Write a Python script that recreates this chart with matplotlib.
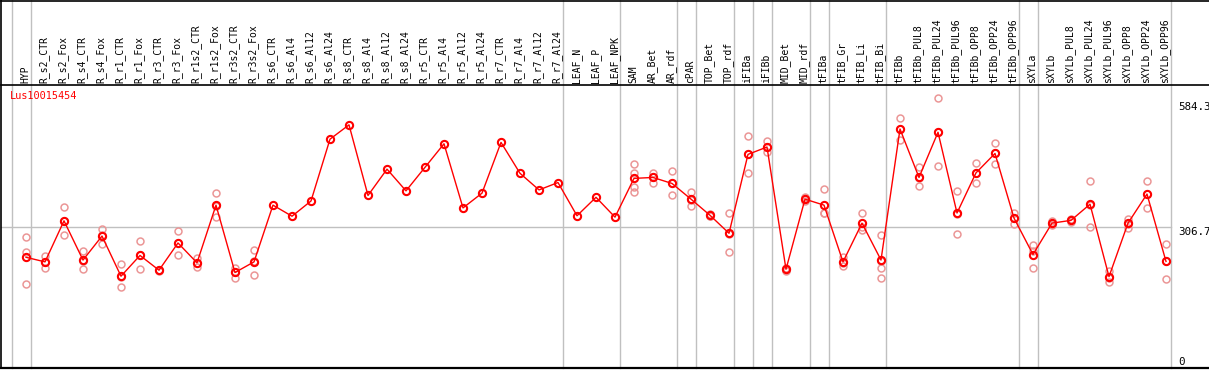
import numpy as np
import matplotlib
matplotlib.use('Agg')
import matplotlib.pyplot as plt

# sample names along the x axis
samples = ['HYP', 'R_s2_CTR', 'R_s2_Fox', 'R_s4_CTR', 'R_s4_Fox', 'R_r1_CTR', 'R_r1_Fox',
           'R_r3_CTR', 'R_r3_Fox', 'R_r1s2_CTR', 'R_r1s2_Fox', 'R_r3s2_CTR', 'R_r3s2_Fox',
           'R_s6_CTR', 'R_s6_Al4', 'R_s6_Al12', 'R_s6_Al24', 'R_s8_CTR', 'R_s8_Al4',
           'R_s8_Al12', 'R_s8_Al24', 'R_r5_CTR', 'R_r5_Al4', 'R_r5_Al12', 'R_r5_Al24',
           'R_r7_CTR', 'R_r7_Al4', 'R_r7_Al12', 'R_r7_Al24', 'LEAF_N', 'LEAF_P', 'LEAF_NPK',
           'SAM', 'AR_Bet', 'AR_rdf', 'cPAR', 'TOP_Bet', 'TOP_rdf', 'iFIBa', 'iFIBb',
           'MID_Bet', 'MID_rdf', 'tFIBa', 'tFIB_Gr', 'tFIB_Li', 'tFIB_Bi', 'tFIBb',
           'tFIBb_PUL8', 'tFIBb_PUL24', 'tFIBb_PUL96', 'tFIBb_OPP8', 'tFIBb_OPP24',
           'tFIBb_OPP96', 'sXYLa', 'sXYLb', 'sXYLb_PUL8', 'sXYLb_PUL24', 'sXYLb_PUL96',
           'sXYLb_OPP8', 'sXYLb_OPP24', 'sXYLb_OPP96']

# mean expression per sample
means = [240, 230, 319, 234, 286, 199, 244, 212, 271, 228, 353, 207, 230,
         353, 329, 362, 496, 527, 374, 431, 384, 435, 486, 347, 379,
         489, 422, 386, 402, 330, 370, 327,
         411, 413, 400, 366, 331, 292, 463, 479, 214, 366, 353,
         230, 314, 234, 518, 413, 511, 336, 423, 465, 325,
         246, 314, 320, 355, 198, 314, 377, 231]

# replicate values (empty = single replicate)
reps = [[284, 251, 182], [243, 230, 216], [349, 319, 288], [254, 233, 215],
        [301, 289, 268], [225, 198, 176], [275, 244, 214], [213, 210, 212],
        [296, 270, 246], [238, 228, 219], [379, 352, 327], [217, 209, 196],
        [255, 233, 201],
        [], [], [], [], [], [], [], [], [], [], [], [], [], [], [], [], [], [], [],
        [442, 422, 393, 382], [423, 415, 402], [427, 400, 374], [382, 364, 352],
        [333, 330, 330], [335, 290, 251], [502, 464, 423], [491, 479, 468],
        [217, 213, 211], [370, 368, 361], [388, 335, 335],
        [241, 227, 222], [335, 306, 299], [288, 233, 216, 194], [542, 519, 494],
        [435, 411, 394], [585, 511, 437], [384, 334, 290], [444, 423, 401],
        [488, 467, 442], [337, 326, 313],
        [267, 253, 217], [319, 312, 309], [323, 320, 317], [405, 354, 305],
        [210, 196, 187], [324, 313, 304], [405, 378, 346], [268, 233, 192]]

# last sample index of each group (gray separators)
group_ends = [-1, 0, 28, 31, 34, 35, 37, 38, 39, 41, 42, 45, 52, 53, 60]

gene = 'Lus10015454'
ymax = 613.4
k = 2.1675  # value per pixel

fig = plt.figure(figsize=(12.09, 3.70), dpi=100)
ax = fig.add_axes([0, 0, 1, 1])
ax.set_xlim(-26 / 19, (1209 - 26) / 19)
ax.set_ylim(-2 * k, 368 * k)
ax.axis('off')

x = np.arange(len(samples))
top = 368 * k

for g in group_ends:
    ax.plot([g + 0.24, g + 0.24], [0, top], color='#c0c0c0', lw=1, zorder=1)
ax.plot([-1.316, 60.24], [306.7, 306.7], color='#c0c0c0', lw=1, zorder=1)

# frame
ax.plot([-1.316, 64], [ymax, ymax], color='black', lw=1.2, zorder=2)
ax.plot([-1.316, 64], [0, 0], color='black', lw=1.6, zorder=2)
ax.plot([-1.316, 64], [top - 0.5 * k, top - 0.5 * k], color='black', lw=1.2, zorder=2)
ax.plot([-1.316, -1.316], [0, top], color='black', lw=1.2, zorder=2)

for i, r in enumerate(reps):
    if r:
        ax.plot([i] * len(r), r, 'o', ms=5, mfc='none', mec='#eb9696', mew=1.1, zorder=3)

ax.plot(x, means, '-', color='red', lw=1, zorder=4)
ax.plot(x, means, 'o', ms=5.2, mfc='none', mec='red', mew=1.5, zorder=5)

for i, s in enumerate(samples):
    ax.text(i - 0.05, ymax + 2 * k, s, rotation=90, ha='center', va='bottom',
            fontsize=7, family='DejaVu Sans Mono')

ax.text(-0.842, (368 - 91) * k, gene, color='red', ha='left', va='top',
        fontsize=7.4, family='DejaVu Sans Mono')

for v, off in [(584.3, -6), (306.7, -4.2), (0, 4.5)]:
    lab = '0' if v == 0 else '%.1f' % v
    ax.annotate(lab, (60.63, v), xytext=(0, off), textcoords='offset points',
                ha='left', va='center', fontsize=7.8, family='DejaVu Sans Mono')

fig.savefig('out.png', dpi=100)
